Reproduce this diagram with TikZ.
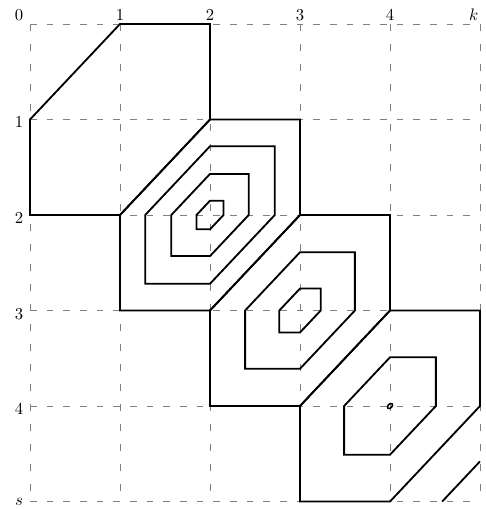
\documentclass[tikz,border=0pt]{standalone}
\begin{document}
\begin{tikzpicture}[x=54pt,y=-57.3pt,
  gridline/.style={gray,line width=0.5pt,dash pattern=on 4pt off 6pt},
  contour/.style={black,line width=1.1pt,line join=miter},
  lab/.style={inner sep=0pt,font=\normalsize}]
\useasboundingbox (-0.3333,-0.2513) rectangle (5.0667,5.0785);
% grid
\foreach \i in {0,...,5} {
  \draw[gridline] (0,\i) -- (5,\i);
  \draw[gridline,dash pattern=on 4pt off 8pt] (\i,0) -- (\i,5);
}
% labels
\node[lab] (t0) at (-0.122,-0.094) {0};
\node[lab] (t1) at (1.0,-0.094) {1};
\node[lab] (t2) at (2.0,-0.094) {2};
\node[lab] (t3) at (3.0,-0.094) {3};
\node[lab] (t4) at (4.0,-0.094) {4};
\node[lab] (tk) at (4.93,-0.094) {$k$};
\node[lab] (l1) at (-0.122,1.03) {1};
\node[lab] (l2) at (-0.122,2.03) {2};
\node[lab] (l3) at (-0.122,3.04) {3};
\node[lab] (l4) at (-0.122,4.03) {4};
\node[lab] (ls) at (-0.122,5.0) {$s$};
% hexagonal contours: center (cx,cy), size r
\newcommand\hexag[3]{%
  \draw[contour] ({#1-#3},#2) -- ++(#3,-#3) -- ++(#3,0) -- ++(0,#3)
    -- ++(-#3,#3) -- ++(-#3,0) -- cycle;}
\hexag{1}{1}{1}
\hexag{2}{2}{1}
\hexag{3}{3}{1}
\hexag{4}{4}{1}
\hexag{2}{2}{0.72}
\hexag{2}{2}{0.43}
\hexag{2}{2}{0.15}
\hexag{3}{3}{0.61}
\hexag{3}{3}{0.23}
\hexag{4}{4}{0.51}
\draw[contour,line width=0.9pt,rotate around={45:(4,4)}] (4,4) ellipse (1.8pt and 1.2pt);
\draw[contour] (4.58,5) -- (5,4.58);
\end{tikzpicture}
\end{document}
